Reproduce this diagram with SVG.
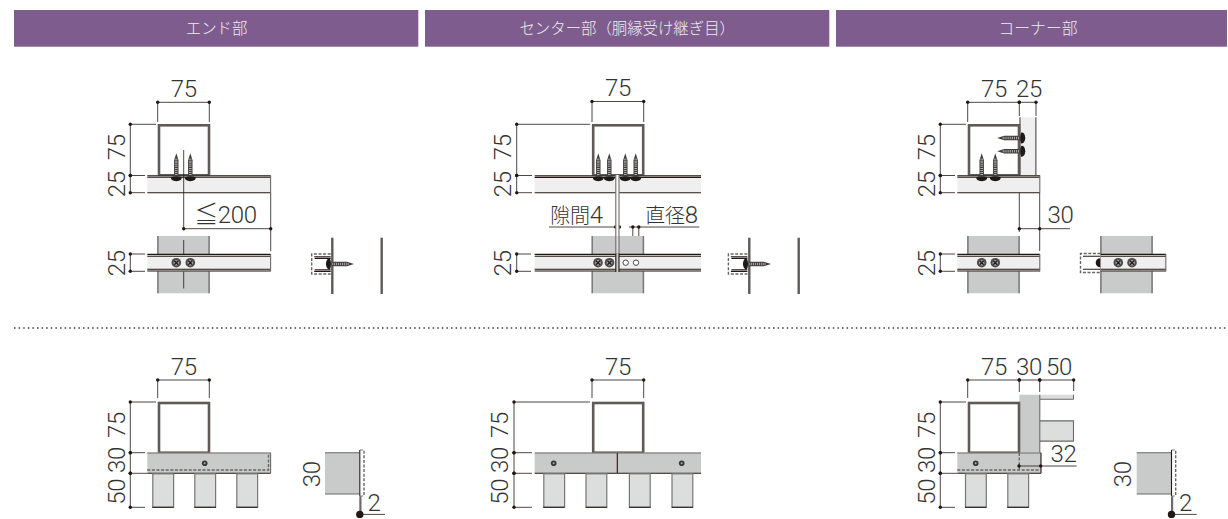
<svg xmlns="http://www.w3.org/2000/svg" xmlns:xlink="http://www.w3.org/1999/xlink" width="1228" height="519" viewBox="0 0 1228 519">
<style>
.hd{fill:#7e5c8e}
.ht{font-family:"Noto Sans CJK JP","Noto Sans",sans-serif;font-size:15.4px;fill:#eee;text-anchor:middle;font-weight:300}
.d{font-family:"Roboto","Liberation Sans","Noto Sans CJK JP",sans-serif;font-size:24px;font-weight:300;fill:#333;text-anchor:middle;letter-spacing:-.3px}
.j{font-family:"Noto Sans CJK JP",sans-serif;font-size:20px;font-weight:300}
.dim{fill:none;stroke:#231815;stroke-width:.8;marker-start:url(#dot);marker-end:url(#dot)}
.ext{fill:none;stroke:#231815;stroke-width:.8}
.box{fill:#fff;stroke:#5f5a59;stroke-width:2.6}
.railT{fill:#efefef}
.dk{stroke:#231815;stroke-width:1.1;fill:none}
.gl{stroke:#6f6a69;stroke-width:1.1;fill:none}
.post{fill:#c9caca}
.light{fill:#dcdddd}
.plate{stroke:#5f5a59;stroke-width:2.4;fill:none}
.dash{stroke:#666;stroke-width:1.4;stroke-dasharray:3 1.6;fill:none}
.edge{stroke:#7a7675;stroke-width:1.5;fill:none}
.leg{fill:#dcdddd;stroke:#7a7675;stroke-width:1.2}
</style>
<defs>
<marker id="dot" markerUnits="userSpaceOnUse" markerWidth="5" markerHeight="5" refX="2.5" refY="2.5"><circle cx="2.5" cy="2.5" r="1.7" fill="#231815"/></marker>
<g id="screwV">
<path d="M-2.2-3V-18.5L0-25.5L2.2-18.5V-3Z" fill="#3f3b3a"/>
<path d="M0-4V-20" stroke="#d8d8d8" stroke-width="2.6" stroke-dasharray=".7 1.2" fill="none"/>
<path d="M-5.4-1.5Q0-3.6 5.4-1.5Q6 2 0 2.6Q-6 2-5.4-1.5Z" fill="#1d1a19"/>
</g>
<g id="head"><circle r="4.8" fill="#4f4b4a"/><circle r="2.8" fill="#a5a3a2"/><path d="M-2-2L2 2M-2 2L2-2" stroke="#231815" stroke-width="1.3"/></g>
<g id="profile">
<path d="M20 0H1V20H20" class="dash"/>
<path d="M20 2.8H3.5M20 4.4H4M20 15.8H4M20 17.4H3.5" class="dk"/>
</g>
<g id="sideView">
<rect x="0" y="0" width="34.3" height="41.3" class="post"/>
<path d="M0 0H34.3M0 41.3H34.3" class="gl" stroke-width="1.4"/>
<path d="M34.8-2.7V43.3" stroke="#231815" stroke-width="1.1"/>
<path d="M39-2V43" class="dash"/>
<path d="M34.8-2.7H38M34.8 43.3H38" stroke="#777" stroke-width="1"/>
<path d="M35.4 43.5V60" stroke="#6f6a69" stroke-width="2.2" fill="none"/>
<circle cx="34.8" cy="61.7" r="3.7" fill="#231815"/>
<path d="M34.8 61.7H60" class="ext"/>
</g>
</defs>

<g id="header-end"><rect class="hd" x="14" y="10" width="404.3" height="36.7"/><text class="ht" x="216.6" y="34">エンド部</text></g>
<g id="header-center"><rect class="hd" x="425" y="10" width="404.3" height="36.7"/><text class="ht" x="627.2" y="34">センター部（胴縁受け継ぎ目）</text></g>
<g id="header-corner"><rect class="hd" x="836" y="10" width="391" height="36.7"/><text class="ht" x="1038" y="34" style="font-size:15.8px">コーナー部</text></g>

<g id="separator"><path d="M14 328H1228" stroke="#3e3a39" stroke-width="1.5" stroke-dasharray="1.5 3.1" fill="none"/></g>

<g id="connectors">
<path class="dim" d="M157.7 102.3H209.3"/><path class="ext" d="M157.7 102.3V122M209.3 102.3V122"/>
<path class="dim" d="M130.3 124.3V175.5"/><path class="dim" d="M130.3 175.5V192.7"/><path class="ext" d="M130.3 124.3H156M130.3 175.5H145M130.3 192.7H145"/>
<path class="dim" d="M130.3 254V271.3"/><path class="ext" d="M130.3 254H145M130.3 271.3H145"/>
<path class="dim" d="M183.7 228.7H270.7"/><path class="ext" d="M270.7 192.7V251"/>
<path class="dim" d="M592 101.5H643.7"/><path class="ext" d="M592 101.5V122M643.7 101.5V122"/>
<path class="dim" d="M516.7 124.3V175.5"/><path class="dim" d="M516.7 175.5V192.7"/><path class="ext" d="M516.7 124.3H590M516.7 175.5H532M516.7 192.7H532"/>
<path class="dim" d="M516.7 254V271.3"/><path class="ext" d="M516.7 254H531M516.7 271.3H531"/>
<path class="ext" d="M549 227H620.5M629 227H699.3"/>
<circle cx="615.6" cy="227" r="1.7" fill="#231815"/><circle cx="619.4" cy="227" r="1.7" fill="#231815"/><circle cx="632.8" cy="227" r="1.7" fill="#231815"/><circle cx="638.8" cy="227" r="1.7" fill="#231815"/>
<path class="ext" d="M632.8 227V259.5M638.8 227V259.5"/>
<path class="dim" d="M967.7 102.3H1019.3"/><path class="dim" d="M1019.3 102.3H1036"/><path class="ext" d="M967.7 102.3V122M1019.3 102.3V116M1036 102.3V116"/>
<path class="dim" d="M940.3 124.3V175.5"/><path class="dim" d="M940.3 175.5V192.7"/><path class="ext" d="M940.3 124.3H966M940.3 175.5H955M940.3 192.7H955"/>
<path class="dim" d="M940.3 254V271.3"/><path class="ext" d="M940.3 254H955M940.3 271.3H955"/>
<path class="dim" d="M1019.3 228.7H1039.7"/><path class="ext" d="M1039.7 228.7H1070M1019.3 192.7V232M1039.7 192.7V251"/>
<path class="dim" d="M157.7 380H209.3"/><path class="ext" d="M157.7 380V398M209.3 380V398"/>
<path class="dim" d="M130.3 402V452.7"/><path class="dim" d="M130.3 452.7V473.3"/><path class="dim" d="M130.3 473.3V507.3"/><path class="ext" d="M130.3 402H156M130.3 452.7H145M130.3 473.3H147M130.3 507.3H145"/>
<path class="dim" d="M592 380H643.7"/><path class="ext" d="M592 380V398M643.7 380V398"/>
<path class="dim" d="M514 402V452.7"/><path class="dim" d="M514 452.7V473.3"/><path class="dim" d="M514 473.3V507.3"/><path class="ext" d="M514 402H590M514 452.7H532M514 473.3H532M514 507.3H532"/>
<path class="dim" d="M967.7 380H1019.3"/><path class="dim" d="M1019.3 380H1039.7"/><path class="dim" d="M1039.7 380H1073.7"/><path class="ext" d="M967.7 380V398M1019.3 380V392M1039.7 380V392M1073.7 380V391"/>
<path class="dim" d="M940.3 402V452.7"/><path class="dim" d="M940.3 452.7V473.3"/><path class="dim" d="M940.3 473.3V507.3"/><path class="ext" d="M940.3 402H966M940.3 452.7H955M940.3 473.3H957M940.3 507.3H955"/>
</g>

<g id="end-top">
<rect class="box" x="159" y="125.3" width="50" height="50"/>
<rect class="railT" x="147.3" y="175.5" width="123.4" height="17.2"/>
<path class="dk" d="M147.3 175.8H270.7M147.3 177.2H270.7M147.3 192.7H270.7"/><path class="gl" d="M270.6 175.5V192.7"/>
<use xlink:href="#screwV" href="#screwV" x="176.3" y="178.7"/><use xlink:href="#screwV" href="#screwV" x="190.3" y="178.7"/>
<path class="ext" d="M183.7 150V228.7"/>
</g>
<g id="end-front">
<rect class="post" x="157.7" y="236" width="51.6" height="57.3"/><path class="edge" d="M157.9 236V293.3M209.1 236V293.3"/>
<path class="ext" d="M183.7 240V254M183.7 271.3V288.5"/>
<rect class="railT" x="147.3" y="254" width="123.4" height="17.3"/>
<path class="dk" d="M147.3 254.4H270.7M147.3 256.2H270.7M147.3 269.2H270.7M147.3 271H270.7"/><path class="gl" d="M270.6 254V271.3"/>
<use xlink:href="#head" href="#head" x="176.3" y="262.7"/><use xlink:href="#head" href="#head" x="190.3" y="262.7"/>
</g>
<g id="end-side">
<use xlink:href="#profile" href="#profile" x="310.7" y="254"/>
<path class="plate" d="M332.3 237.7V294M381.7 237.7V294"/>
<use xlink:href="#screwV" href="#screwV" transform="translate(328.5 264) rotate(90)"/>
</g>

<g id="center-top">
<rect class="box" x="593.2" y="125.3" width="50" height="50"/>
<rect class="railT" x="534.7" y="175.5" width="166.3" height="17.2"/>
<path class="dk" d="M534.7 175.8H701M534.7 177.4H701M534.7 192.7H701"/>
<rect x="615.6" y="175" width="3.6" height="76" fill="#fff"/>
<path class="gl" d="M615.8 175V251.5M619 175V251.5"/>
<use xlink:href="#screwV" href="#screwV" x="598.3" y="178.7"/><use xlink:href="#screwV" href="#screwV" x="609.3" y="178.7"/><use xlink:href="#screwV" href="#screwV" x="625.3" y="178.7"/><use xlink:href="#screwV" href="#screwV" x="635.7" y="178.7"/>
</g>
<g id="center-front">
<rect class="post" x="592" y="236" width="51.6" height="57.3"/><path class="edge" d="M592.2 236V293.3M643.4 236V293.3"/>
<rect x="615.8" y="236" width="3.2" height="18" fill="#dcdddd"/><path class="gl" d="M615.8 236V254M619 236V254"/>
<rect class="railT" x="534.7" y="254" width="166.3" height="17.3"/>
<path class="dk" d="M534.7 254.4H701M534.7 256.2H701M534.7 269.2H701M534.7 271H701"/>
<rect x="615.8" y="254" width="3.2" height="18" fill="#c9caca"/><path class="dk" d="M615.8 254V272M619 254V272"/>
<use xlink:href="#head" href="#head" x="598" y="262.7"/><use xlink:href="#head" href="#head" x="609.5" y="262.7"/>
<circle cx="625.7" cy="262.7" r="2.7" fill="#fff" stroke="#3a3635" stroke-width=".9"/><circle cx="636" cy="262.7" r="2.7" fill="#fff" stroke="#3a3635" stroke-width=".9"/>
</g>
<g id="center-side">
<use xlink:href="#profile" href="#profile" x="727.4" y="254"/>
<path class="plate" d="M749.3 237.7V294M798.7 237.7V294"/>
<use xlink:href="#screwV" href="#screwV" transform="translate(745.5 264) rotate(90)"/>
</g>

<g id="corner-top">
<rect x="1019.3" y="117.3" width="16.7" height="58.2" class="railT"/>
<path class="edge" d="M1035.8 117.3V175.5M1020 117.3V175.5"/>
<rect class="box" x="969" y="125.3" width="50" height="50"/>
<rect class="railT" x="957.3" y="175.5" width="82.7" height="17.2"/>
<path class="dk" d="M957.3 175.8H1040M957.3 177.2H1040M957.3 192.7H1040"/><path class="gl" d="M1039.8 175.5V192.7"/>
<use xlink:href="#screwV" href="#screwV" x="981.7" y="178.7"/><use xlink:href="#screwV" href="#screwV" x="995.3" y="178.7"/>
<use xlink:href="#screwV" href="#screwV" transform="translate(1022.7 138) rotate(-90)"/><use xlink:href="#screwV" href="#screwV" transform="translate(1022.7 151.3) rotate(-90)"/>
</g>
<g id="corner-front">
<rect class="post" x="967.7" y="236" width="51.6" height="57.3"/><path class="edge" d="M967.9 236V293.3M1019.1 236V293.3"/>
<rect class="railT" x="957.3" y="254" width="82.7" height="17.3"/>
<path class="dk" d="M957.3 254.4H1040M957.3 256.2H1040M957.3 269.2H1040M957.3 271H1040"/><path class="gl" d="M1039.8 254V271.3"/>
<use xlink:href="#head" href="#head" x="981.7" y="262.7"/><use xlink:href="#head" href="#head" x="995.3" y="262.7"/>
</g>
<g id="corner-side">
<path class="dash" d="M1100.5 253.5H1080.5V272.5H1100.5"/>
<path class="dk" d="M1083 256.2H1100.5M1083 269.2H1100.5"/>
<rect class="post" x="1100.7" y="236" width="51.6" height="57.3"/><path class="edge" d="M1100.9 236V293.3M1152.1 236V293.3"/>
<rect class="railT" x="1100.7" y="254" width="65.3" height="17.3"/>
<path class="dk" d="M1100.7 254.4H1166M1100.7 256.2H1166M1100.7 269.2H1166M1100.7 271H1166"/><path class="gl" d="M1165.8 254V271.3"/>
<path d="M1100.2 258.2A4.5 4.5 0 0 0 1100.2 267.2Z" fill="#231815"/>
<use xlink:href="#head" href="#head" x="1118.3" y="262.7"/><use xlink:href="#head" href="#head" x="1132" y="262.7"/>
</g>

<g id="end-bottom">
<rect class="box" x="159" y="403" width="50" height="49.7"/>
<rect class="post" x="147.3" y="452.7" width="123.4" height="20.6"/>
<path class="gl" d="M147.3 453H270.7"/><path class="dk" d="M147.3 473.3H270.7"/><path class="dash" d="M147.3 470H268.5V453.5"/><path class="gl" d="M270.6 452.7V473.3"/>
<circle cx="204.7" cy="463.3" r="2.8" fill="#3a3635"/><circle cx="204.7" cy="463.3" r="1" fill="#aaa"/>
<rect class="leg" x="152.8" y="473.8" width="20.8" height="33.5"/><rect class="leg" x="194.8" y="473.8" width="20.8" height="33.5"/><rect class="leg" x="236.8" y="473.8" width="20.8" height="33.5"/>
<path class="dk" d="M152.3 507.3H173.7M194.3 507.3H216M236.3 507.3H257.7"/>
</g>
<g id="end-bottom-side"><use xlink:href="#sideView" href="#sideView" x="325" y="452.7"/></g>

<g id="center-bottom">
<rect class="box" x="593.2" y="403" width="50" height="49.7"/>
<rect class="post" x="534.7" y="452.7" width="166.3" height="20.6"/>
<path class="gl" d="M534.7 453H701"/><path class="dk" d="M534.7 473.3H701M617.3 453V473.3"/>
<circle cx="553.7" cy="463.3" r="2.8" fill="#3a3635"/><circle cx="553.7" cy="463.3" r="1" fill="#aaa"/><circle cx="681.7" cy="463.3" r="2.8" fill="#3a3635"/><circle cx="681.7" cy="463.3" r="1" fill="#aaa"/>
<rect class="leg" x="543.8" y="473.8" width="20.8" height="33.5"/><rect class="leg" x="586" y="473.8" width="20.8" height="33.5"/><rect class="leg" x="629.4" y="473.8" width="20.8" height="33.5"/><rect class="leg" x="672" y="473.8" width="20.8" height="33.5"/>
<path class="dk" d="M543.3 507.3H564.7M585.7 507.3H607M629 507.3H650.5M671.7 507.3H693"/>
</g>

<g id="corner-bottom">
<rect class="light" x="1040" y="394.7" width="33.7" height="4.6"/><path class="gl" d="M1040 399.3H1073.7M1073.5 394.7V399.3"/>
<rect class="light" x="1040" y="420.7" width="33.7" height="20.6"/><path class="gl" d="M1040 420.9H1073.5V441.1H1040"/>
<rect class="post" x="1019.3" y="394.7" width="20.7" height="58"/>
<path class="gl" d="M1039.8 394.7V452.7"/>
<rect class="box" x="969" y="403" width="50" height="49.7"/>
<rect class="post" x="957.3" y="452.7" width="83.7" height="20.6"/>
<path class="gl" d="M957.3 453H1041"/><path class="dk" d="M957.3 473.3H1041M1041 452.7V473.3"/>
<path class="dash" d="M957.3 470H1039.5M1019.3 453V470"/>
<circle cx="975.7" cy="463.3" r="2.8" fill="#3a3635"/><circle cx="975.7" cy="463.3" r="1" fill="#aaa"/>
<path class="dim" d="M1019 466H1040.7"/><path class="ext" d="M1040.7 466H1076.7"/>
<rect class="leg" x="965.5" y="473.8" width="20.8" height="33.5"/><rect class="leg" x="1007.8" y="473.8" width="20.8" height="33.5"/>
<path class="dk" d="M965 507.3H986.3M1007.3 507.3H1028.8"/>
</g>
<g id="corner-bottom-side"><use xlink:href="#sideView" href="#sideView" x="1136.7" y="452.7"/></g>

<g id="labels">
<text class="d" x="183.8" y="97">75</text><text class="d" x="618" y="96">75</text><text class="d" x="994" y="97">75</text><text class="d" x="1029" y="97">25</text>
<text class="d" x="225.5" y="223">≦200</text>
<text class="d" x="576.5" y="222.7"><tspan class="j">隙間</tspan>4</text>
<text class="d" x="671.5" y="222.7"><tspan class="j">直径</tspan>8</text>
<text class="d" x="1060.5" y="223">30</text>
<text class="d" x="183.8" y="374.5">75</text><text class="d" x="618" y="374.5">75</text><text class="d" x="994" y="374.5">75</text><text class="d" x="1029" y="374.5">30</text><text class="d" x="1059" y="374.5">50</text>
<text class="d" x="1063.5" y="461.7">32</text>
<text class="d" x="374" y="511">2</text><text class="d" x="1185.5" y="511">2</text>
<text class="d" transform="translate(124.7 147.3) rotate(-90)">75</text>
<text class="d" transform="translate(124.7 184.3) rotate(-90)">25</text>
<text class="d" transform="translate(124.7 263.3) rotate(-90)">25</text>
<text class="d" transform="translate(511.3 147.3) rotate(-90)">75</text>
<text class="d" transform="translate(511.3 184.3) rotate(-90)">25</text>
<text class="d" transform="translate(511.3 263.3) rotate(-90)">25</text>
<text class="d" transform="translate(934.7 147.3) rotate(-90)">75</text>
<text class="d" transform="translate(934.7 184.3) rotate(-90)">25</text>
<text class="d" transform="translate(934.7 263.3) rotate(-90)">25</text>
<text class="d" transform="translate(124.7 425) rotate(-90)">75</text>
<text class="d" transform="translate(124.7 460) rotate(-90)">30</text>
<text class="d" transform="translate(124.7 491.7) rotate(-90)">50</text>
<text class="d" transform="translate(508.3 425) rotate(-90)">75</text>
<text class="d" transform="translate(508.3 460) rotate(-90)">30</text>
<text class="d" transform="translate(508.3 491.7) rotate(-90)">50</text>
<text class="d" transform="translate(934.7 425) rotate(-90)">75</text>
<text class="d" transform="translate(934.7 460) rotate(-90)">30</text>
<text class="d" transform="translate(934.7 491.7) rotate(-90)">50</text>
<text class="d" transform="translate(320 474.3) rotate(-90)">30</text>
<text class="d" transform="translate(1130.7 474.3) rotate(-90)">30</text>
</g>
</svg>
